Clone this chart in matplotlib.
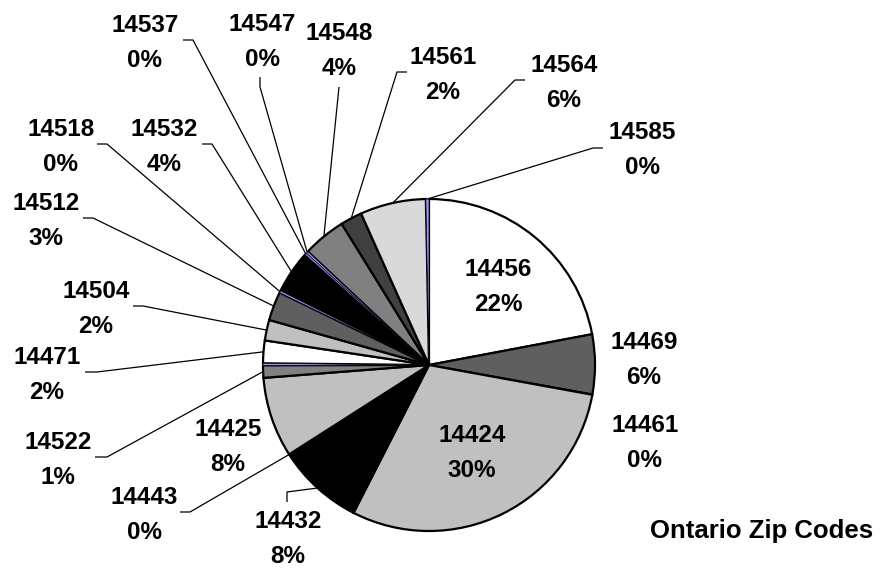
import numpy as np
import matplotlib
matplotlib.use("Agg")
import matplotlib.pyplot as plt

W, H = 882, 571

# slices in drawing order (clockwise from 12 o'clock), percent of total
zip_codes = ['14456', '14469', '14461', '14424', '14432', '14443', '14425', '14522', '',
             '14471', '14504', '14512', '14518', '14532', '14537', '14547', '14548',
             '14561', '14564', '14585']
shares = [22.0, 5.8, 0.03, 29.6, 8.4, 0.03, 7.8, 1.2, 0.2,
          2.2, 2.0, 2.8, 0.2, 4.2, 0.2, 0.2, 4.2,
          2.1, 6.4, 0.3]
pct_labels = ['22%', '6%', '0%', '30%', '8%', '0%', '8%', '1%', '',
              '2%', '2%', '3%', '0%', '4%', '0%', '0%', '4%',
              '2%', '6%', '0%']
slice_colors = ['#FFFFFF', '#5F5F5F', '#9999FF', '#C0C0C0', '#000000', '#9999FF', '#C0C0C0',
                '#808080', '#9999FF', '#FFFFFF', '#C0C0C0', '#5F5F5F', '#9999FF', '#000000',
                '#9999FF', '#9999FF', '#808080', '#404040', '#D9D9D9', '#9999FF']

# label centres (pixels, from top-left) and leader line start/elbow
label_pos = {
    '14456': (498, 284), '14469': (644, 357), '14461': (645, 440), '14424': (472, 450),
    '14432': (288, 536), '14443': (144, 512), '14425': (228, 444), '14522': (58, 457),
    '14471': (47, 372), '14504': (96, 306), '14512': (46, 218), '14518': (61, 144),
    '14532': (164, 144), '14537': (145, 40), '14547': (262, 39), '14548': (339, 48),
    '14561': (443, 72), '14564': (564, 80), '14585': (642, 147),
}
leaders = {
    '14432': [(287, 502), (287, 492)],
    '14443': [(180, 512), (190, 512)],
    '14522': [(95, 457), (107, 457)],
    '14471': [(85, 372), (97, 372)],
    '14504': [(133, 306), (143, 306)],
    '14512': [(83, 218), (93, 218)],
    '14518': [(97, 144), (107, 144)],
    '14532': [(202, 144), (212, 144)],
    '14537': [(183, 40), (193, 40)],
    '14547': [(260, 77), (260, 87)],
    '14548': [(339, 87), (339, 87)],
    '14561': [(407, 72), (397, 72)],
    '14564': [(525, 80), (515, 80)],
    '14585': [(603, 148), (593, 148)],
}

center = (429, H - 365)
radius = 166

fig = plt.figure(figsize=(W / 100, H / 100), dpi=100)
ax = fig.add_axes([0, 0, 1, 1])

wedges, _ = ax.pie(shares, colors=slice_colors, startangle=90, counterclock=False,
                   center=center, radius=radius,
                   wedgeprops=dict(edgecolor='black', linewidth=1.6))
# the thin blue slivers only show if their outline is light
for w, c in zip(wedges, slice_colors):
    if c == '#9999FF':
        w.set_linewidth(0.5)
        w.set_zorder(w.get_zorder() + 1)
ax.set_xlim(0, W)
ax.set_ylim(0, H)
ax.set_aspect('equal')
ax.axis('off')

font = dict(family='Liberation Sans', weight='bold', size=17.5)
text_dy = 3  # va='center' box includes descent, nudge down a bit

for name, pct, wedge in zip(zip_codes, pct_labels, wedges):
    if not name:
        continue
    lx, ly = label_pos[name]
    ax.text(lx, H - ly - text_dy, name + '\n' + pct, ha='center', va='center',
            multialignment='center', linespacing=1.7, **font)
    if name in leaders:
        mid = np.deg2rad((wedge.theta1 + wedge.theta2) / 2)
        px = center[0] + radius * np.cos(mid)
        py = center[1] + radius * np.sin(mid)
        (sx, sy), (ex, ey) = leaders[name]
        ax.plot([sx, ex, px], [H - sy, H - ey, py], color='black', lw=0.9,
                solid_capstyle='butt')

ax.text(873, H - 538, 'Ontario Zip Codes', ha='right', va='baseline',
        family='Liberation Sans', weight='bold', size=18.5)

fig.savefig('out.png', dpi=100)
